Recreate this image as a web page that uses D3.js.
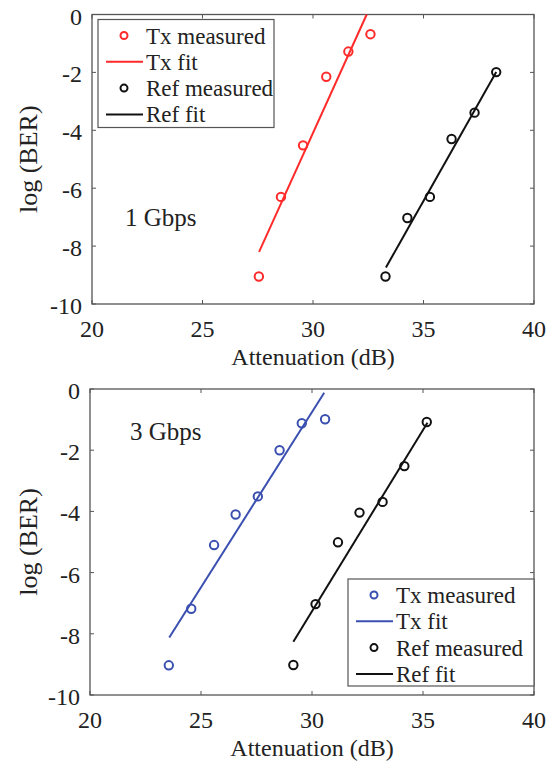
<!DOCTYPE html>
<html>
<head>
<meta charset="utf-8">
<script src="https://cdn.jsdelivr.net/npm/d3@7"></script>
<style>
  body { margin: 0; background: #fff; }
  text { font-family: "Liberation Serif", "Times New Roman", serif; fill: #222; }
</style>
</head>
<body>
<div id="chart"></div>
<script>
// ---- data ----
// 1 Gbps
const tx1_att = [27.55, 28.55, 29.55, 30.6, 31.6, 32.6];
const tx1_ber = [-9.05, -6.3, -4.52, -2.15, -1.28, -0.68];
const tx1_fit = [[27.56, -8.2], [32.43, 0]];
const ref1_att = [33.28, 34.27, 35.29, 36.27, 37.31, 38.29];
const ref1_ber = [-9.05, -7.03, -6.3, -4.3, -3.39, -1.99];
const ref1_fit = [[33.3, -8.74], [38.29, -1.99]];

// 3 Gbps
const tx3_att = [23.55, 24.56, 25.59, 26.56, 27.56, 28.54, 29.54, 30.59];
const tx3_ber = [-9.03, -7.18, -5.1, -4.1, -3.51, -2.0, -1.12, -0.99];
const tx3_fit = [[23.57, -8.12], [30.55, -0.12]];
const ref3_att = [29.16, 30.16, 31.17, 32.14, 33.18, 34.16, 35.17];
const ref3_ber = [-9.02, -7.03, -5.01, -4.04, -3.69, -2.52, -1.08];
const ref3_fit = [[29.16, -8.26], [35.2, -1.1]];

const xTicks = [20, 25, 30, 35, 40];
const yTicks = [0, -2, -4, -6, -8, -10];
const legendLabels = ["Tx measured", "Tx fit", "Ref measured", "Ref fit"];

const W = 549, H = 770;
const svg = d3.select("#chart").append("svg")
    .attr("width", W).attr("height", H);
svg.append("rect").attr("width", W).attr("height", H).attr("fill", "#fff");

function panel(cfg) {
    const x = d3.scaleLinear().domain([20, 40]).range([cfg.left, cfg.right]);
    const y = d3.scaleLinear().domain([-10, 0]).range([cfg.bottom, cfg.top]);
    const g = svg.append("g");
    const axisColor = "#555";

    // box
    g.append("rect")
        .attr("x", cfg.left).attr("y", cfg.top)
        .attr("width", cfg.right - cfg.left).attr("height", cfg.bottom - cfg.top)
        .attr("fill", "none").attr("stroke", axisColor).attr("stroke-width", 1.3);

    // ticks (inside, mirrored)
    const tl = 4;
    xTicks.forEach(t => {
        g.append("line").attr("x1", x(t)).attr("x2", x(t))
            .attr("y1", cfg.bottom).attr("y2", cfg.bottom - tl)
            .attr("stroke", axisColor);
        g.append("line").attr("x1", x(t)).attr("x2", x(t))
            .attr("y1", cfg.top).attr("y2", cfg.top + tl)
            .attr("stroke", axisColor);
        g.append("text").attr("x", x(t)).attr("y", cfg.bottom + 33)
            .attr("text-anchor", "middle").attr("font-size", 24).text(t);
    });
    yTicks.forEach(t => {
        g.append("line").attr("x1", cfg.left).attr("x2", cfg.left + tl)
            .attr("y1", y(t)).attr("y2", y(t)).attr("stroke", axisColor);
        g.append("line").attr("x1", cfg.right).attr("x2", cfg.right - tl)
            .attr("y1", y(t)).attr("y2", y(t)).attr("stroke", axisColor);
        g.append("text").attr("x", cfg.left - 10).attr("y", y(t) + 10)
            .attr("text-anchor", "end").attr("font-size", 24).text(t);
    });

    // axis titles
    g.append("text").attr("x", (cfg.left + cfg.right) / 2).attr("y", cfg.bottom + 61)
        .attr("text-anchor", "middle").attr("font-size", 24).text("Attenuation (dB)");
    g.append("text")
        .attr("transform", `translate(37,${(cfg.top + cfg.bottom) / 2}) rotate(-90)`)
        .attr("text-anchor", "middle").attr("font-size", 26).text("log (BER)");

    // fits
    const line = d3.line().x(d => x(d[0])).y(d => y(d[1]));
    g.append("path").datum(cfg.txFit).attr("d", line)
        .attr("fill", "none").attr("stroke", cfg.txColor).attr("stroke-width", 2);
    g.append("path").datum(cfg.refFit).attr("d", line)
        .attr("fill", "none").attr("stroke", "#111").attr("stroke-width", 2);

    // measured points
    g.selectAll(null).data(d3.zip(cfg.txAtt, cfg.txBer)).enter().append("circle")
        .attr("cx", d => x(d[0])).attr("cy", d => y(d[1])).attr("r", 4.2)
        .attr("fill", "none").attr("stroke", cfg.txColor).attr("stroke-width", 2);
    g.selectAll(null).data(d3.zip(cfg.refAtt, cfg.refBer)).enter().append("circle")
        .attr("cx", d => x(d[0])).attr("cy", d => y(d[1])).attr("r", 4.2)
        .attr("fill", "none").attr("stroke", "#111").attr("stroke-width", 2);

    // rate label
    g.append("text").attr("x", cfg.rateX).attr("y", cfg.rateY)
        .attr("font-size", 25).text(cfg.rate);

    // legend
    const L = cfg.legend;
    g.append("rect").attr("x", L.x).attr("y", L.y).attr("width", L.w).attr("height", L.h)
        .attr("fill", "#fff").attr("stroke", axisColor).attr("stroke-width", 1.2);
    const colors = [cfg.txColor, cfg.txColor, "#111", "#111"];
    legendLabels.forEach((lab, i) => {
        const cy = L.y + 16 + i * 26.3;
        if (i % 2 === 0) {
            g.append("circle").attr("cx", L.x + 26).attr("cy", cy).attr("r", 3.5)
                .attr("fill", "none").attr("stroke", colors[i]).attr("stroke-width", 2);
        } else {
            g.append("line").attr("x1", L.x + 8).attr("x2", L.x + 45)
                .attr("y1", cy).attr("y2", cy)
                .attr("stroke", colors[i]).attr("stroke-width", 2);
        }
        g.append("text").attr("x", L.x + 48).attr("y", cy + 8)
            .attr("font-size", 23).text(lab);
    });
}

panel({
    left: 92, right: 534, top: 14.5, bottom: 304,
    txAtt: tx1_att, txBer: tx1_ber, txFit: tx1_fit,
    refAtt: ref1_att, refBer: ref1_ber, refFit: ref1_fit,
    txColor: "#ff2a2a",
    rate: "1 Gbps", rateX: 125, rateY: 226,
    legend: { x: 98, y: 19.5, w: 176, h: 108 }
});

panel({
    left: 90, right: 534, top: 389, bottom: 695,
    txAtt: tx3_att, txBer: tx3_ber, txFit: tx3_fit,
    refAtt: ref3_att, refBer: ref3_ber, refFit: ref3_fit,
    txColor: "#3a4fb0",
    rate: "3 Gbps", rateX: 130, rateY: 440,
    legend: { x: 348, y: 579, w: 186, h: 107 }
});
</script>
</body>
</html>
